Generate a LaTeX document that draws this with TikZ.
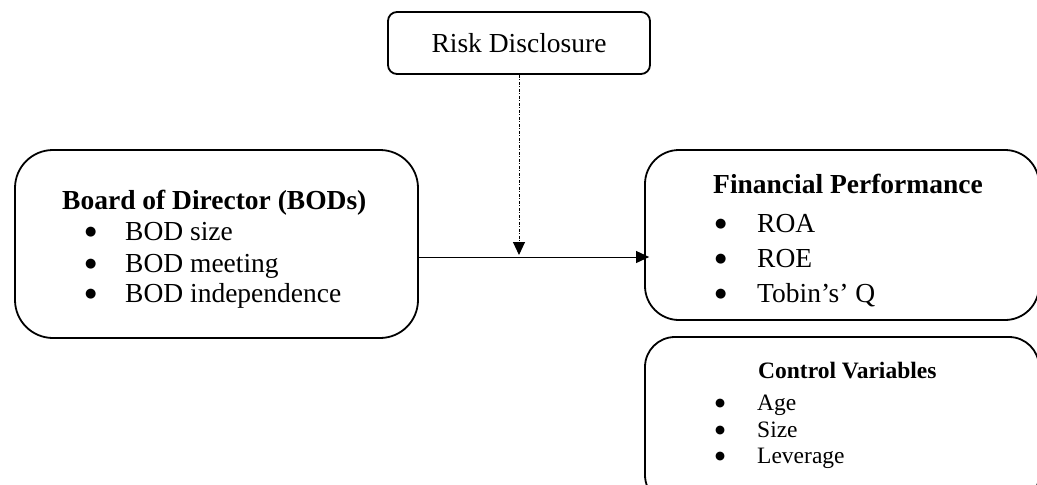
\documentclass[tikz,border=0pt]{standalone}
\usepackage{fontspec}
\setmainfont{Liberation Serif}
\newfontfamily\dejavu{DejaVu Sans}
\usetikzlibrary{arrows.meta}
\begin{document}
\begin{tikzpicture}[x=1pt,y=-1pt,
  box/.style={draw, line width=1.8pt, inner sep=0pt},
  big/.style={font=\fontsize{27.5}{30}\selectfont, inner sep=0pt, anchor=base west},
  bigb/.style={font=\fontsize{27.5}{30}\selectfont\bfseries, inner sep=0pt, anchor=base west},
  small/.style={font=\fontsize{23.5}{26}\selectfont, inner sep=0pt, anchor=base west},
  smallb/.style={font=\fontsize{23.5}{26}\selectfont\bfseries, inner sep=0pt, anchor=base west},
  bul/.style={font=\dejavu\fontsize{13}{14}\selectfont, inner sep=0pt, anchor=base west},
  sbul/.style={font=\dejavu\fontsize{11.5}{12}\selectfont, inner sep=0pt, anchor=base west},
  tip/.style={-{Triangle[length=13pt,width=12pt]}, line width=1pt}
]
\useasboundingbox (0,0) rectangle (1037,485);
\clip (0,0) rectangle (1037,485);
% boxes
\node[box, rounded corners=9pt, minimum width=262pt, minimum height=62pt] (risk) at (519,43) {};
\node[box, rounded corners=38pt, minimum width=403pt, minimum height=188pt] (bod) at (216.5,244) {};
\node[box, rounded corners=34pt, minimum width=394pt, minimum height=170pt] (fin) at (842,235) {};
\node[box, rounded corners=30pt, minimum width=394pt, minimum height=168pt] (ctrl) at (842,421) {};
% Risk text
\node[font=\fontsize{27.5}{30}\selectfont, inner sep=0pt] (risktxt) at (risk.center) {Risk Disclosure};
% BOD text
\node[bigb] (bodt) at (62,209) {Board of Director (BODs)};
\node[bul] (b1) at (85,235) {●};
\node[big] (bt1) at (125,240) {BOD size};
\node[bul] (b2) at (85,267) {●};
\node[big] (bt2) at (125,272) {BOD meeting};
\node[bul] (b3) at (85,297) {●};
\node[big] (bt3) at (125,302) {BOD independence};
% Financial text
\node[bigb] (fint) at (713,193) {Financial Performance};
\node[bul] (f1) at (715,227) {●};
\node[big] (ft1) at (757,232) {ROA};
\node[bul] (f2) at (715,262) {●};
\node[big] (ft2) at (757,267) {ROE};
\node[bul] (f3) at (715,297) {●};
\node[big] (ft3) at (757,302) {Tobin’s’ Q};
% Control text
\node[smallb] (ct) at (758,378) {Control Variables};
\node[sbul] (c1) at (715,406.5) {●};
\node[small] (ct1) at (757,410) {Age};
\node[sbul] (c2) at (715,433.5) {●};
\node[small] (ct2) at (757,437) {Size};
\node[sbul] (c3) at (715,459.5) {●};
\node[small] (ct3) at (757,463) {Leverage};
% connectors
\coordinate (j) at (519,257);
\draw[tip, shorten >=-5pt] (bod.east |- j) -- (fin.west |- j);
\draw[tip, shorten >=2pt, dash pattern=on 3pt off 1.5pt on 1pt off 1.5pt] (risk.south) -- (j);
\end{tikzpicture}
\end{document}
